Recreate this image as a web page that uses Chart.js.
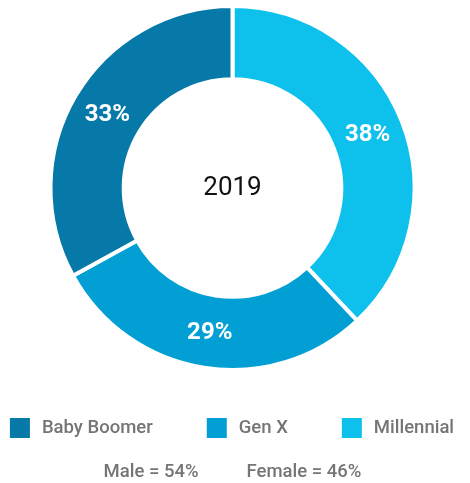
<!DOCTYPE html>
<html>
<head>
<meta charset="utf-8">
<script src="https://cdn.jsdelivr.net/npm/chart.js@4/dist/chart.umd.min.js"></script>
<style>
  html, body { margin: 0; padding: 0; background: #fff; }
  #wrap { width: 470px; height: 483px; position: relative; }
</style>
</head>
<body>
<div id="wrap"><canvas id="genChart"></canvas></div>
<script>
// data, in drawing order (clockwise from 12 o'clock)
const generations = ['Millennial', 'Gen X', 'Baby Boomer'];
const shares = [38, 29, 33];
const colors = ['#0dc1ec', '#019fd4', '#0779a9'];
const yearLabel = '2019';
const genderLabels = ['Male', 'Female'];
const genderShares = [54, 46];

const fontFamily = 'Roboto, "Noto Sans", sans-serif';
const greyText = '#757575';

// row of items centred on cx, each item = optional box + text
function drawRow(ctx, items, cx, cy, gap) {
    const widths = items.map(it => (it.color ? 32 : 0) + ctx.measureText(it.text).width);
    const total = widths.reduce((a, b) => a + b, 0) + gap * (items.length - 1);
    let x = cx - total / 2;
    items.forEach((it, i) => {
        let tx = x;
        if (it.color) {
            ctx.fillStyle = it.color;
            ctx.fillRect(x, cy - 10, 20, 20);
            tx = x + 32;
        }
        ctx.fillStyle = greyText;
        ctx.fillText(it.text, tx, cy);
        x += widths[i] + gap;
    });
}

const chartText = {
    id: 'chartText',
    afterDatasetsDraw(chart) {
        const ctx = chart.ctx;
        const meta = chart.getDatasetMeta(0);
        ctx.save();
        ctx.fillStyle = '#ffffff';
        ctx.font = 'bold 24px ' + fontFamily;
        ctx.textAlign = 'center';
        ctx.textBaseline = 'middle';
        meta.data.forEach((arc, i) => {
            const pos = arc.tooltipPosition();
            ctx.fillText(shares[i] + '%', pos.x, pos.y + 1);
        });

        // centre label
        const first = meta.data[0];
        ctx.fillStyle = '#111111';
        ctx.font = '26px ' + fontFamily;
        ctx.fillText(yearLabel, first.x, first.y);
        ctx.restore();
    },
    afterDraw(chart) {
        const ctx = chart.ctx;
        const ds = chart.data.datasets[0];
        ctx.save();
        ctx.font = '500 18.5px ' + fontFamily;
        ctx.textBaseline = 'middle';
        ctx.textAlign = 'left';

        // legend, reversed so it reads Baby Boomer -> Millennial
        const legendItems = chart.data.labels
            .map((l, i) => ({ text: l, color: ds.backgroundColor[i] }))
            .reverse();
        drawRow(ctx, legendItems, 232, 428, 54);

        const genderItems = genderLabels.map((g, i) => ({ text: g + ' = ' + genderShares[i] + '%' }));
        drawRow(ctx, genderItems, 232.5, 472, 48);
        ctx.restore();
    }
};

new Chart(document.getElementById('genChart'), {
    type: 'doughnut',
    data: {
        labels: generations,
        datasets: [{
            data: shares,
            backgroundColor: colors,
            borderColor: '#ffffff',
            borderWidth: 4,
            hoverOffset: 0
        }]
    },
    options: {
        responsive: true,
        maintainAspectRatio: false,
        animation: false,
        radius: 182,
        cutout: 107,
        layout: {
            padding: { top: 7, right: 5, left: 0, bottom: 114 }
        },
        plugins: {
            legend: { display: false },
            tooltip: { enabled: false }
        }
    },
    plugins: [chartText]
});
</script>
</body>
</html>
